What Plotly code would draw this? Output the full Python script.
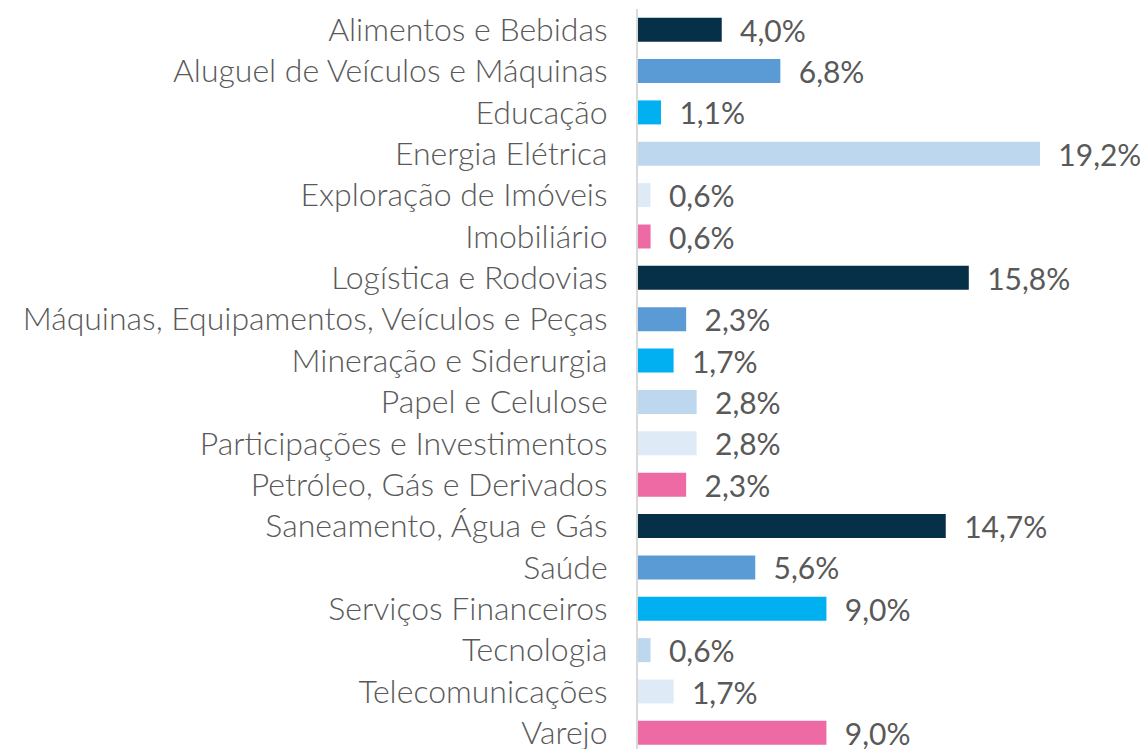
import plotly.graph_objects as go

categories = [
    "Alimentos e Bebidas", "Aluguel de Veículos e Máquinas", "Educação",
    "Energia Elétrica", "Exploração de Imóveis", "Imobiliário",
    "Logística e Rodovias", "Máquinas, Equipamentos, Veículos e Peças",
    "Mineração e Siderurgia", "Papel e Celulose", "Participações e Investimentos",
    "Petróleo, Gás e Derivados", "Saneamento, Água e Gás", "Saúde",
    "Serviços Financeiros", "Tecnologia", "Telecomunicações", "Varejo",
]
values = [4.0, 6.8, 1.1, 19.2, 0.6, 0.6, 15.8, 2.3, 1.7, 2.8, 2.8, 2.3,
          14.7, 5.6, 9.0, 0.6, 1.7, 9.0]
palette = ["#062f48", "#5b9bd5", "#00b0f0", "#bdd7ee", "#deebf7", "#ed6aa4"]

labels = ["  " + f"{v:.1f}".replace(".", ",") + "%" for v in values]
colors = [palette[i % len(palette)] for i in range(len(values))]

fig = go.Figure(go.Bar(
    x=values, y=categories, orientation="h",
    marker=dict(color=colors, line=dict(width=0)),
    text=labels, textposition="outside", cliponaxis=False,
    constraintext="none",
    textfont=dict(family="Lato", size=30, color="#595959", weight=400),
    width=0.58,
))

fig.update_layout(
    width=1140, height=741,
    margin=dict(l=630, r=0, t=1, b=0, autoexpand=False),
    paper_bgcolor="white", plot_bgcolor="white",
    showlegend=False,
    font=dict(family="Lato", color="#595959"),
    xaxis=dict(range=[0, 24.36], visible=False, showgrid=False, zeroline=False),
    yaxis=dict(
        type="category", categoryorder="array", categoryarray=categories,
        range=[17.39, -0.5], showgrid=False, zeroline=False,
        showline=True, linecolor="#d9d9d9", linewidth=2,
        ticks="", ticklabelstandoff=22,
        tickfont=dict(family="Lato", size=32, color="#595959", weight=300),
    ),
)

fig.write_html("out.html")
